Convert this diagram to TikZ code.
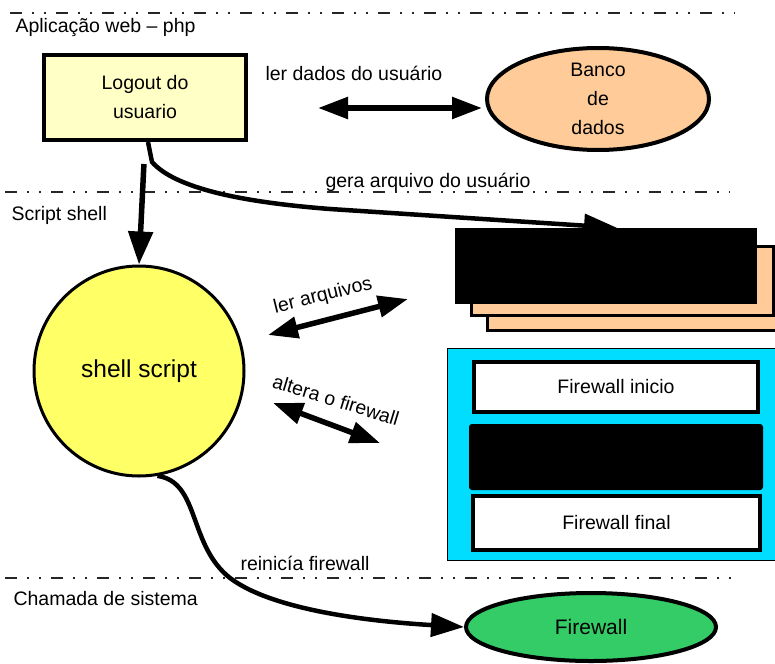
\documentclass[tikz,border=0pt]{standalone}
\usepackage{fontspec}
\setmainfont{Liberation Sans}
\usepackage{xcolor}
\definecolor{LogoutYellow}{HTML}{FFFFC6}
\definecolor{Peach}{HTML}{FFCC99}
\definecolor{ShellYellow}{HTML}{FFFF66}
\definecolor{FwCyan}{HTML}{00DDFF}
\definecolor{FwGreen}{HTML}{33CC66}
\usetikzlibrary{arrows.meta, shapes.geometric}

\begin{document}
\begin{tikzpicture}[x=1pt, y=-1pt,
    every node/.style={font=\fontsize{19.5}{29}\selectfont, align=center},
    sepline/.style={line width=1.3pt, black!85, dash pattern=on 12pt off 10pt on 2pt off 10pt on 2pt off 10pt},
    bigarrow/.style={line width=5.5pt, -{Triangle[length=33pt, width=24pt]}},
    curvarrow/.style={line width=4.5pt, -{Triangle[length=33pt, width=23pt]}},
    duplo/.style={line width=5.5pt, {Triangle[length=30pt, width=21pt]}-{Triangle[length=30pt, width=21pt]}},
    caixa/.style={draw, line width=4pt, rectangle, inner sep=0pt},
    bolha/.style={draw, line width=4pt, ellipse, inner sep=0pt}]
                                \path[use as bounding box] (0,0) rectangle (775,663);
                                \clip (0,0) rectangle (775,663);

                                \draw[sepline] (10,13) -- (735,13);
                                \draw[sepline] (5,192) -- (730,192);
                                \draw[sepline] (5,578) -- (733,578);

                                \node[anchor=base west] (lblweb) at (12,33) {Aplicação web – php};
                                \node[anchor=base west] (lblscript) at (8,220) {Script shell};
                                \node[anchor=base west] (lblsistema) at (10,605) {Chamada de sistema};

                                \node[caixa, fill=LogoutYellow, minimum width=202pt, minimum height=85pt] (logout) at (145,97.5) {Logout do\\usuario};
                                \node[bolha, fill=Peach, minimum width=222pt, minimum height=102pt] (banco) at (598,99) {Banco\\de\\dados};
                                \node[circle, draw, line width=3pt, fill=ShellYellow, minimum size=210pt, font=\fontsize{24.5}{29}\selectfont] (shell) at (139,371) {shell script};
                                \node[bolha, fill=FwGreen, minimum width=250pt, minimum height=68pt, font=\fontsize{21}{29}\selectfont] (firewall) at (591,627) {Firewall};

                                \node[caixa, line width=3pt, fill=Peach, minimum width=303pt, minimum height=68pt] (arqtras) at (638.5,296) {};
                                \node[caixa, line width=3pt, fill=Peach, minimum width=302pt, minimum height=69pt] (arqmeio) at (622,280.5) {};
                                \node[fill=black, inner sep=0pt, minimum width=302pt, minimum height=76pt] (arqfrente) at (606,266) {};

                                \node[draw, line width=1pt, fill=FwCyan, minimum width=340pt, minimum height=212pt] (fwbloco) at (617,454) {};
                                \node[caixa, fill=white, minimum width=284pt, minimum height=50pt] (fwinicio) at (616,387) {Firewall inicio};
                                \node[fill=black, rounded corners=3pt, inner sep=0pt, minimum width=294pt, minimum height=66pt] (fwmeio) at (616,457) {};
                                \node[caixa, fill=white, minimum width=287pt, minimum height=54pt] (fwfinal) at (616.5,523) {Firewall final};

                                \node[anchor=base west] (lbldados) at (262,81) {ler dados do usuário};
                                \node[anchor=base west] (lblgera) at (322,187) {gera arquivo do usuário};
                                \node[anchor=base west] (lblreinicia) at (237,570) {reinicía firewall};
                                \node[rotate=14] (lblarquivos) at (323,296) {ler arquivos};
                                \node[rotate=-17] (lblaltera) at (336,400) {altera o firewall};

                                \coordinate (dadosesq) at (318,108);
                                \coordinate (dadosdir) at (482,108);
                                \coordinate (arqesq) at (268,335);
                                \coordinate (arqdir) at (408,299);
                                \coordinate (altesq) at (273,403);
                                \coordinate (altdir) at (380,443);

                                \draw[duplo] (dadosesq) -- (dadosdir);
                                \draw[duplo] (arqesq) -- (arqdir);
                                \draw[duplo] (altesq) -- (altdir);

                                \draw[bigarrow, shorten <=22pt] (logout.south) -- (shell.north);
                                \draw[curvarrow] ([xshift=3pt]logout.south) -- ++(4,20) .. controls (175,188) and (240,202) .. (330,209) -- ([xshift=11pt]arqfrente.north);
                                \draw[curvarrow] (shell.-80) .. controls (200,482) and (188,545) .. (230,578) .. controls (275,612) and (380,622) .. (firewall.west);
                            \end{tikzpicture}
\end{document}
